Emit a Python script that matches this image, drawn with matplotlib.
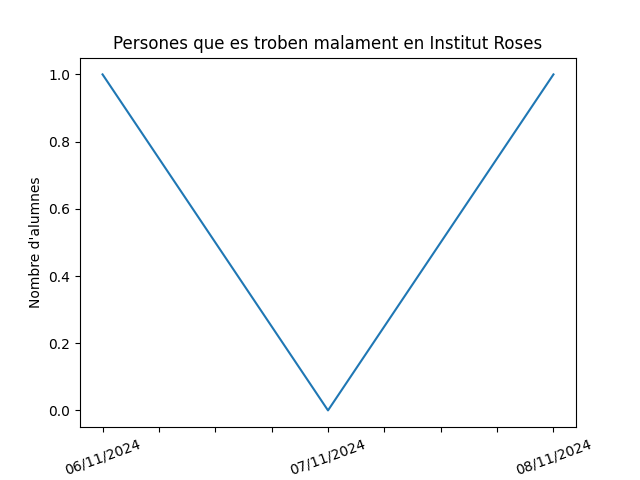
import matplotlib
matplotlib.use("Agg")
import matplotlib.pyplot as plt
import matplotlib.dates as mdates
from matplotlib.ticker import FuncFormatter
import pandas as pd

dates = ["2024-11-06", "2024-11-07", "2024-11-08"]
counts = [1, 0, 1]

x = pd.to_datetime(dates)

fig, ax = plt.subplots(figsize=(6.4, 4.8), dpi=100)
ax.plot(x, counts)
ax.set_title("Persones que es troben malament en Institut Roses")
ax.set_ylabel("Nombre d'alumnes")

ax.xaxis.set_major_locator(mdates.HourLocator(byhour=[0, 6, 12, 18]))


def fmt(v, pos):
    d = mdates.num2date(v)
    if d.hour == 0:
        return d.strftime("%d/%m/%Y")
    return ""


ax.xaxis.set_major_formatter(FuncFormatter(fmt))
plt.xticks(rotation=20)

fig.savefig("out.png")
